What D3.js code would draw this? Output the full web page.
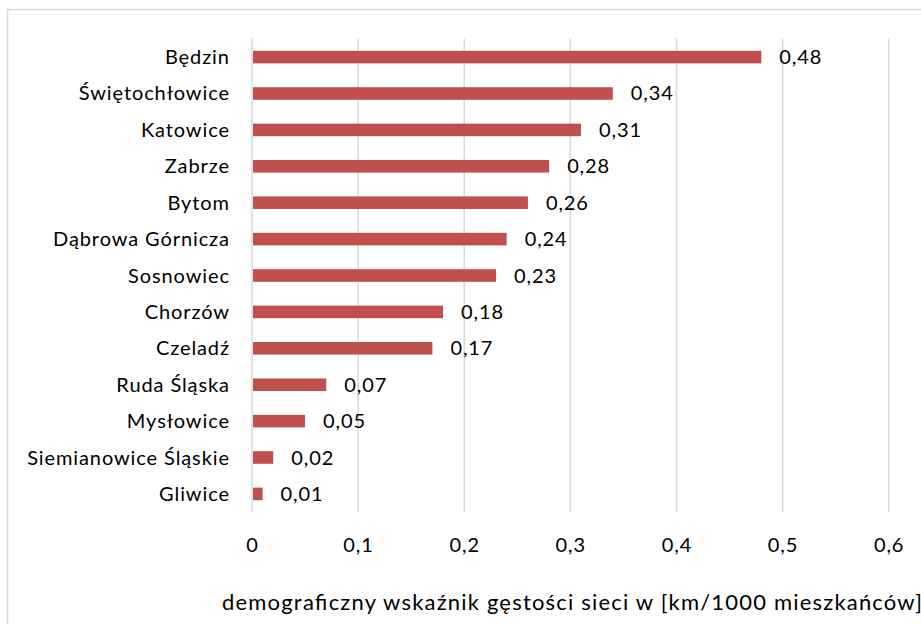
<!DOCTYPE html>
<html><head><meta charset="utf-8">
<script src="https://cdn.jsdelivr.net/npm/d3@7"></script>
<style>body{margin:0;background:#fff;} svg{display:block;}</style>
</head><body>
<svg id="c" width="921" height="624"></svg>
<script>
const categories = ["Będzin","Świętochłowice","Katowice","Zabrze","Bytom","Dąbrowa Górnicza","Sosnowiec","Chorzów","Czeladź","Ruda Śląska","Mysłowice","Siemianowice Śląskie","Gliwice"];
const values = [0.48,0.34,0.31,0.28,0.26,0.24,0.23,0.18,0.17,0.07,0.05,0.02,0.01];
const valueLabels = ["0,48","0,34","0,31","0,28","0,26","0,24","0,23","0,18","0,17","0,07","0,05","0,02","0,01"];
const ticks = [0,0.1,0.2,0.3,0.4,0.5,0.6];
const tickLabels = ["0","0,1","0,2","0,3","0,4","0,5","0,6"];
const axisTitle = "demograficzny wskaźnik gęstości sieci w [km/1000 mieszkańców]";

const font = "Lato, 'Open Sans', sans-serif";
const ls = 0.9;
const svg = d3.select("#c");
svg.append("rect").attr("x",7.5).attr("y",9.5).attr("width",1000).attr("height",700)
  .attr("fill","#fff").attr("stroke","#d9d9d9").attr("stroke-width",1.5);

const x = d3.scaleLinear().domain([0,0.6]).range([252,888.7]);
const y = d3.scaleBand().domain(categories).range([38.8,512.2]).paddingInner(0.655).paddingOuter(0.33);

const g = svg.append("g");
g.selectAll("line.grid").data(ticks).join("line").attr("class","grid")
  .attr("x1",d=>x(d)).attr("x2",d=>x(d)).attr("y1",38.8).attr("y2",512.2)
  .attr("stroke","#d9d9d9").attr("stroke-width",1.5);

g.selectAll("rect.bar").data(values).join("rect").attr("class","bar")
  .attr("x",x(0)+1).attr("y",(d,i)=>y(categories[i]))
  .attr("width",d=>x(d)-x(0)-1).attr("height",y.bandwidth())
  .attr("fill","#c0504d");

const fs = 20;
g.selectAll("text.val").data(values).join("text").attr("class","val")
  .attr("x",d=>x(d)+18).attr("y",(d,i)=>y(categories[i])+y.bandwidth()/2+7)
  .attr("font-family",font).attr("font-size",fs).attr("letter-spacing",ls).attr("fill","#000")
  .text((d,i)=>valueLabels[i]);

g.selectAll("text.cat").data(categories).join("text").attr("class","cat")
  .attr("x",229+ls).attr("y",d=>y(d)+y.bandwidth()/2+7).attr("text-anchor","end")
  .attr("font-family",font).attr("font-size",fs).attr("letter-spacing",ls).attr("fill","#000").text(d=>d);

g.selectAll("text.tick").data(ticks).join("text").attr("class","tick")
  .attr("x",d=>x(d)+ls/2).attr("y",552).attr("text-anchor","middle")
  .attr("font-family",font).attr("font-size",fs).attr("letter-spacing",ls).attr("fill","#000")
  .text((d,i)=>tickLabels[i]);

svg.append("text").attr("x",222).attr("y",610)
  .attr("font-family",font).attr("font-size",22).attr("fill","#000")
  .attr("textLength",700).attr("lengthAdjust","spacing").text(axisTitle);
</script>
</body></html>
